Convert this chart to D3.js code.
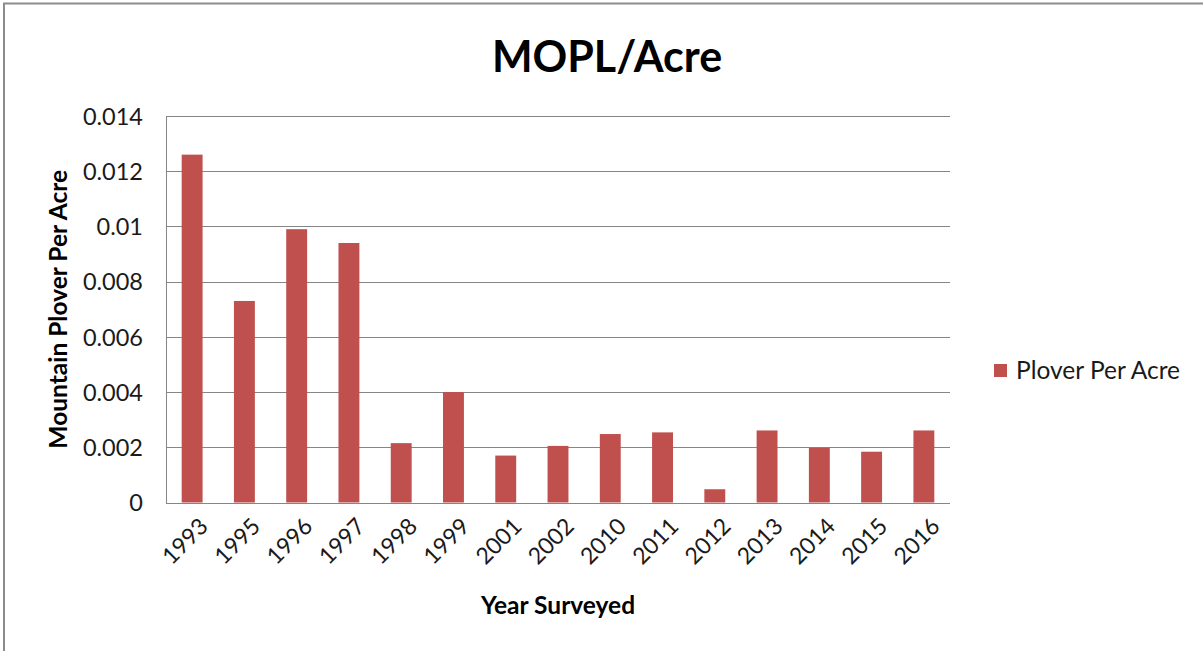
<!DOCTYPE html>
<html>
<head>
<meta charset="utf-8">
<script src="https://cdn.jsdelivr.net/npm/d3@7"></script>
<style>
  html, body { margin: 0; padding: 0; background: #fff; }
  svg { display: block; }
  text { font-family: Lato, "Open Sans", sans-serif; }
</style>
</head>
<body>
<svg id="chart" width="1203" height="651"></svg>
<script>
const years = ["1993","1995","1996","1997","1998","1999","2001","2002","2010","2011","2012","2013","2014","2015","2016"];
const ploverPerAcre = [0.0126,0.0073,0.0099,0.0094,0.00215,0.0040,0.0017,0.00205,0.00248,0.00254,0.00048,0.00261,0.00198,0.00184,0.00261];
const yTicks = [0,0.002,0.004,0.006,0.008,0.01,0.012,0.014];
const yTickLabels = ["0","0.002","0.004","0.006","0.008","0.01","0.012","0.014"];
const seriesName = "Plover Per Acre";
const title = "MOPL/Acre";
const xTitle = "Year Surveyed";
const yTitle = "Mountain Plover Per Acre";

const svg = d3.select("#chart");
const W = 1203, H = 651;
const m = {left: 166, right: 950, top: 116, bottom: 502.5};
const barColor = "#C0504D";
const gridColor = "#868686";
const textColor = "#1a1a1a";

// outer border
svg.append("path")
  .attr("d", `M4,${H} L4,3.5 L${W},3.5`)
  .attr("fill", "none").attr("stroke", "#8c8c8c").attr("stroke-width", 2);

const x = d3.scaleBand().domain(years).range([m.left, m.right]).paddingInner(0.6).paddingOuter(0.3);
const y = d3.scaleLinear().domain([0, 0.014]).range([m.bottom, m.top]);

// gridlines
svg.append("g").selectAll("line").data(yTicks).join("line")
  .attr("x1", m.left).attr("x2", m.right)
  .attr("y1", d => Math.round(y(d)) + 0.5).attr("y2", d => Math.round(y(d)) + 0.5)
  .attr("stroke", gridColor).attr("stroke-width", 1);

// left axis line
svg.append("line")
  .attr("x1", m.left + 0.5).attr("x2", m.left + 0.5)
  .attr("y1", m.top).attr("y2", Math.round(m.bottom) + 0.5)
  .attr("stroke", gridColor).attr("stroke-width", 1);

// bars
svg.append("g").selectAll("rect").data(years).join("rect")
  .attr("x", d => x(d))
  .attr("width", x.bandwidth())
  .attr("y", (d, i) => y(ploverPerAcre[i]))
  .attr("height", (d, i) => y(0) - y(ploverPerAcre[i]))
  .attr("fill", barColor);

// re-draw baseline on top
svg.append("line")
  .attr("x1", m.left).attr("x2", m.right)
  .attr("y1", Math.round(y(0)) + 0.5).attr("y2", Math.round(y(0)) + 0.5)
  .attr("stroke", gridColor).attr("stroke-width", 1);

// y axis tick labels
const yAxis = d3.axisLeft(y).tickValues(yTicks).tickSize(0).tickPadding(0)
  .tickFormat((d, i) => yTickLabels[i]);
const gy = svg.append("g").attr("transform", `translate(${m.left - 23},0)`).call(yAxis);
gy.select(".domain").remove();
gy.selectAll("text").attr("font-size", 23.5).attr("fill", textColor)
  .attr("font-family", "Lato, 'Open Sans', sans-serif").attr("dy", "0.35em");

// x axis tick labels
const xAxis = d3.axisBottom(x).tickSize(0).tickPadding(0);
const gx = svg.append("g").attr("transform", `translate(0,${m.bottom})`).call(xAxis);
gx.select(".domain").remove();
gx.selectAll("text")
  .attr("font-size", 23).attr("fill", textColor)
  .attr("font-family", "Lato, 'Open Sans', sans-serif")
  .attr("text-anchor", "end")
  .attr("transform", "translate(6,14) rotate(-45)")
  .attr("dy", "0.7em").attr("dx", 0).attr("y", 0);

// title
svg.append("text").attr("x", 607).attr("y", 72)
  .attr("text-anchor", "middle").attr("font-size", 43).attr("font-weight", "bold")
  .attr("fill", "#000").text(title);

// x title
svg.append("text").attr("x", 558).attr("y", 614)
  .attr("text-anchor", "middle").attr("font-size", 24.5).attr("font-weight", "bold")
  .attr("fill", "#000").text(xTitle);

// y title
svg.append("text").attr("transform", `translate(67,${(m.top + m.bottom) / 2}) rotate(-90)`)
  .attr("text-anchor", "middle").attr("font-size", 24.5).attr("font-weight", "bold")
  .attr("fill", "#000").text(yTitle);

// legend
const lg = svg.append("g").attr("transform", "translate(994,364)");
lg.append("rect").attr("width", 13).attr("height", 13).attr("fill", barColor);
lg.append("text").attr("x", 22).attr("y", 15).attr("font-size", 24.5)
  .attr("fill", textColor).text(seriesName);
</script>
</body>
</html>
